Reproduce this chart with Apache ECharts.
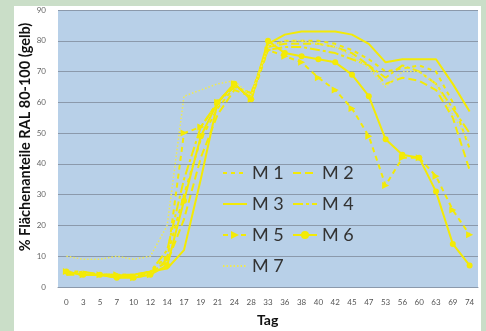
<!DOCTYPE html>
<html>
<head>
<meta charset="utf-8">
<script src="https://cdn.jsdelivr.net/npm/echarts@6/dist/echarts.min.js"></script>
<style>
  html, body { margin: 0; padding: 0; background: #cadec8; }
  #panel { position: absolute; left: 14px; top: 6px; width: 467px; height: 325px; background: #fff; }
  #chart { position: absolute; left: 0; top: 0; width: 486px; height: 331px; }
</style>
</head>
<body>
<div id="panel"></div>
<div id="chart"></div>
<script>
// Messtage (Kategorien)
const days = ['0', '3', '5', '7', '10', '12', '14', '17', '19', '21', '24', '28', '33',
  '36', '38', '40', '42', '45', '47', '53', '56', '60', '63', '69', '74'];

// % Flächenanteile je Messreihe
const m1 = [5, 5, 4, 4, 4, 5, 10, 30, 48, 58, 65, 63, 78, 80, 80, 80, 79, 77, 74, 70, 71, 72, 70, 60, 45];
const m2 = [4, 4, 4, 4, 3, 5, 8, 22, 42, 56, 64, 62, 78, 79, 79, 79, 78, 76, 72, 66, 68, 67, 64, 55, 38];
const m3 = [5, 4, 4, 3, 4, 5, 6, 12, 35, 60, 66, 61, 79, 82, 83, 83, 83, 82, 79, 73, 74, 74, 74, 66, 57];
const m4 = [4, 5, 4, 4, 4, 5, 12, 35, 52, 60, 65, 63, 77, 78, 78, 77, 76, 74, 72, 68, 72, 70, 66, 58, 50];
const m5 = [5, 4, 4, 4, 3, 4, 9, 50, 52, 60, 66, 61, 77, 75, 73, 68, 64, 58, 49, 33, 42, 42, 36, 25, 17];
const m6 = [5, 4, 4, 3, 3, 4, 7, 28, 49, 60, 66, 61, 80, 76, 75, 74, 73, 69, 62, 48, 43, 42, 31, 14, 7];
const m7 = [10, 9, 9, 10, 9, 10, 20, 62, 64, 66, 67, 62, 78, 80, 80, 79, 78, 75, 71, 65, 70, 70, 66, 56, 47];

const yTitle = '% Flächenanteile RAL 80-100 (gelb)';
const xTitle = 'Tag';

const yellow = '#f3ea06';
const font = 'Lato, "Liberation Sans", sans-serif';

const chart = echarts.init(document.getElementById('chart'));

// Hilfsfunktion für eine Linie
const mkLine = (name, data, type, symbol, extra) => Object.assign({
  name,
  type: 'line',
  data,
  symbol: symbol || 'none',
  symbolSize: 6,
  itemStyle: { color: yellow },
  lineStyle: { color: yellow, width: 2, type },
  emphasis: { disabled: true },
  animation: false,
}, extra || {});

const series = [
  mkLine('M 1', m1, [4, 4]),
  mkLine('M 2', m2, [8, 4]),
  mkLine('M 3', m3, 'solid'),
  mkLine('M 4', m4, [10, 3, 3, 3]),
  mkLine('M 5', m5, [5, 4], 'triangle', { symbolRotate: -90, symbolSize: 7 }),
  mkLine('M 6', m6, 'solid', 'circle', { symbolSize: 6 }),
  mkLine('M 7', m7, [1.5, 2], null, { lineStyle: { color: '#f0ea50', width: 1.5, type: [1.5, 2] } }),
];

// Legende ohne Marker für reine Linien
const noMark = (name) => ({ name, itemStyle: { opacity: 0 } });

const legendBase = {
  orient: 'vertical',
  top: 159,
  itemGap: 13,
  itemWidth: 24,
  itemHeight: 10,
  textStyle: { fontSize: 18, color: '#333', fontFamily: font },
};

chart.setOption({
  animation: false,
  textStyle: { fontFamily: font },
  grid: {
    left: 58, right: 8, top: 10, bottom: 44,
    show: true, backgroundColor: '#b8d0e8', borderWidth: 0,
  },
  legend: [
    Object.assign({ left: 217, data: [noMark('M 1'), noMark('M 3'), 'M 5', noMark('M 7')] }, legendBase),
    Object.assign({ left: 287, data: [noMark('M 2'), noMark('M 4'), 'M 6'] }, legendBase),
  ],
  xAxis: {
    type: 'category',
    data: days,
    boundaryGap: true,
    axisLine: { lineStyle: { color: '#8b99ab' } },
    axisTick: { length: 3, lineStyle: { color: '#8b99ab' } },
    axisLabel: { interval: 0, fontSize: 8, color: '#555', margin: 11 },
  },
  yAxis: {
    type: 'value',
    min: 0, max: 90, interval: 10,
    axisLine: { show: false },
    axisLabel: { fontSize: 8, color: '#666', margin: 12 },
    splitLine: { lineStyle: { color: '#8b99ab', width: 1.2 } },
  },
  graphic: [
    {
      type: 'text', x: 25, y: 137,
      rotation: Math.PI / 2,
      style: {
        text: yTitle, fontSize: 14.5, fontWeight: 'bold', fill: '#111', fontFamily: font,
        align: 'center', verticalAlign: 'middle',
      },
    },
    {
      type: 'text', left: 257, top: 313,
      style: { text: xTitle, fontSize: 14, fontWeight: 'bold', fill: '#111', fontFamily: font },
    },
  ],
  series,
});
</script>
</body>
</html>
